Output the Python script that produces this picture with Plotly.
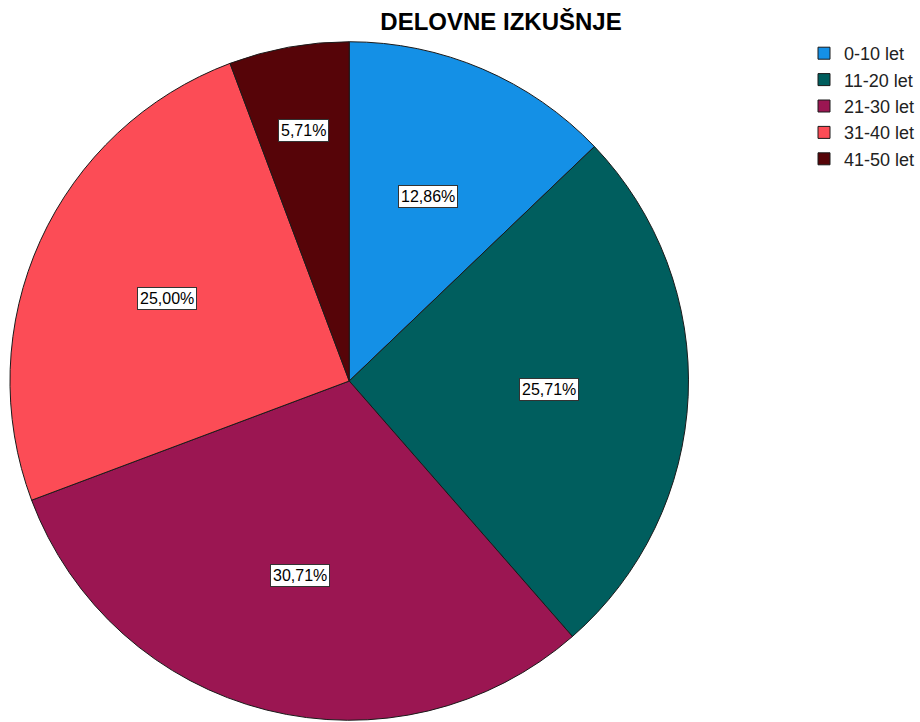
import math
import plotly.graph_objects as go

# Work experience distribution (number of respondents per group)
categories = ["0-10 let", "11-20 let", "21-30 let", "31-40 let", "41-50 let"]
counts = [18, 36, 43, 35, 8]
colors = ["#1490E6", "#005E5E", "#9B1652", "#FC4C56", "#560408"]

W, H = 920, 722
cx, cy, R = 350, 381, 340  # pie centre and radius in pixels
FONT = "Liberation Sans, Arial, sans-serif"

fig = go.Figure(go.Pie(
    labels=categories,
    values=counts,
    sort=False,
    direction="clockwise",
    rotation=0,
    textinfo="none",
    hoverinfo="label+percent",
    marker=dict(colors=colors, line=dict(color="#1a1a1a", width=1)),
    domain=dict(x=[(cx - R) / W, (cx + R) / W], y=[1 - (cy + R) / H, 1 - (cy - R) / H]),
))

# Percentage labels placed inside each slice along its bisector
total = sum(counts)
annotations = []
start = 0.0
for v in counts:
    frac = v / total
    mid = (start + frac / 2) * 2 * math.pi
    start += frac
    rf = 0.59 if frac > 0.1 else 0.75
    px = cx + rf * R * math.sin(mid)
    py = cy - rf * R * math.cos(mid)
    annotations.append(dict(
        x=px / W, y=1 - py / H, xref="paper", yref="paper",
        text=f"{frac * 100:.2f}%".replace(".", ","),
        showarrow=False,
        font=dict(family=FONT, size=16, color="black"),
        bgcolor="white", bordercolor="#333333", borderwidth=1, borderpad=2,
        xanchor="center", yanchor="middle",
    ))

fig.update_layout(
    width=W, height=H,
    margin=dict(l=0, r=0, t=0, b=0),
    paper_bgcolor="white", plot_bgcolor="white",
    title=dict(
        text="<b>DELOVNE IZKUŠNJE</b>",
        x=501 / W, xanchor="center", y=1 - 22 / H, yanchor="middle",
        font=dict(family=FONT, size=24, color="black"),
    ),
    legend=dict(
        x=806 / W, y=1 - 35 / H, xanchor="left", yanchor="top",
        font=dict(family=FONT, size=18, color="#222222"),
        bgcolor="rgba(0,0,0,0)",
        traceorder="normal",
        tracegroupgap=0,
    ),
    annotations=annotations,
)

fig.write_html("out.html")
